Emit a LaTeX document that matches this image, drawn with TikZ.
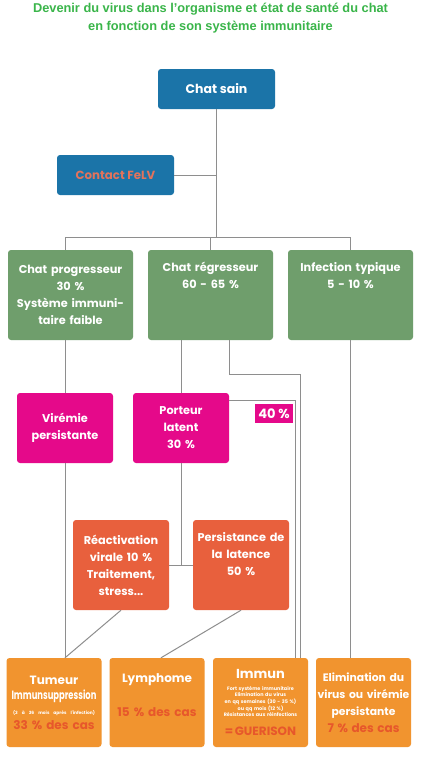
\documentclass[tikz,border=0pt]{standalone}
\usepackage{fontspec}
\usepackage{xcolor}
\usepackage{graphicx}
\usepackage{tikz}
\usetikzlibrary{positioning, calc}
\setmainfont{Liberation Sans}
\newfontfamily\boxfont{Poppins}
\definecolor{titlegreen}{HTML}{3AB54A}
\definecolor{felvblue}{HTML}{1B74A8}
\definecolor{contactred}{HTML}{E2735C}
\definecolor{stagegreen}{HTML}{6F9E6C}
\definecolor{viremiapink}{HTML}{E5098A}
\definecolor{latentred}{HTML}{E8603D}
\definecolor{outcomeorange}{HTML}{F1942F}
\definecolor{casered}{HTML}{E7572B}
\definecolor{linkgray}{HTML}{8E8E8E}

\tikzset{
  card/.style={rounded corners=3pt, inner sep=0pt, align=center, text=white,
    font=\boxfont\bfseries\fontsize{11.3}{17}\selectfont},
  bluebox/.style={card, fill=felvblue, minimum width=117pt, minimum height=40pt},
  stagebox/.style={card, fill=stagegreen, minimum width=125pt, minimum height=90pt, text width=121pt},
  pinkbox/.style={card, fill=viremiapink, minimum width=96pt, minimum height=70pt, text width=92pt},
  latbox/.style={card, fill=latentred, minimum width=96pt, minimum height=90pt, text width=92pt},
  outbox/.style={card, fill=outcomeorange, minimum width=95pt, minimum height=89pt, text width=94pt,
    font=\boxfont\bfseries\fontsize{11.5}{17}\selectfont},
  link/.style={draw=linkgray, line width=1pt}
}
\newcommand{\casecount}[1]{{\color{casered}\fontsize{12}{14}\selectfont #1}}

\begin{document}
\begin{tikzpicture}[x=1pt, y=-1pt]
  \useasboundingbox[fill=white] (0,0) rectangle (421,758);

  \node[font=\bfseries\fontsize{12.8}{18.5}\selectfont, text=titlegreen, align=center] (title) at (210.5,18)
    {Devenir du virus dans l'organisme et état de santé du chat\\en fonction de son système immunitaire};

  \node[bluebox, font=\boxfont\bfseries\fontsize{12.5}{15}\selectfont] (sain) at (216.5,89) {Chat sain};
  \node[bluebox, text=contactred, font=\boxfont\bfseries\fontsize{11.8}{15}\selectfont] (contact) at (115.5,175) {Contact FeLV};

  \node[stagebox] (prog) at (70.5,295) {Chat progresseur\\30 \%\\Système immuni-\\taire faible};
  \node[stagebox] (regr) at (210.5,295) {Chat régresseur\\60 - 65 \%\\\strut\\\strut};
  \node[stagebox] (infect) at (350.5,295) {Infection typique\\5 - 10 \%\\\strut\\\strut};

  \node[pinkbox] (viremie) at (65,428) {Virémie\\persistante};
  \node[pinkbox] (porteur) at (181,428) {Porteur\\latent\\30 \%};
  \node[card, fill=viremiapink, rounded corners=0pt, minimum width=38pt, minimum height=19pt,
        font=\boxfont\bfseries\fontsize{13}{14}\selectfont] (pct) at (274,413.5) {40 \%};

  \node[latbox] (reac) at (121,565) {Réactivation\\virale 10 \%\\Traitement,\\stress...};
  \node[latbox] (pers) at (241,565) {Persistance de\\la latence\\50 \%\\\strut};

  \node[outbox, font=\boxfont\bfseries\fontsize{12}{15}\selectfont] (tumeur) at (54,702.5)
    {Tumeur\\\scalebox{0.7}[1]{Immunsuppression}\\
     {\fontsize{4.4}{5}\selectfont (3 à 36 mois après l'infection)}\\\casecount{33 \% des cas}};
  \node[outbox, font=\boxfont\bfseries\fontsize{12}{34}\selectfont] (lymph) at (157,702.5)
    {Lymphome\\\casecount{15 \% des cas}\\[-20pt]\mbox{}};
  \node[outbox, font=\boxfont\bfseries\fontsize{4.9}{6.6}\selectfont] (immun) at (260.5,702.5)
    {{\fontsize{13}{15}\selectfont Immun}\\[5pt]
     Fort système immunitaire\\Elimination du virus\\en qq semaines (30 - 35 \%)\\
     ou qq mois (12 \%)\\Résistances aux réinfections\\[9pt]\casecount{= GUERISON}};
  \node[outbox, font=\boxfont\bfseries\fontsize{10.8}{17}\selectfont] (elim) at (363.5,702.5)
    {Elimination du\\virus ou virémie\\persistante\\\casecount{7 \% des cas}};

  \coordinate (split) at (216.5,237);
  \draw[link] (sain.south) -- (split);
  \draw[link] (contact.east) -- (contact.east -| sain.south);
  \draw[link] (split -| viremie.north) -- (split -| infect.north);
  \draw[link] (split -| viremie.north) -- (prog.north -| viremie.north);
  \draw[link] (split -| regr.north) -- (regr.north);
  \draw[link] (split -| infect.north) -- (infect.north);

  \draw[link] (prog.south -| viremie.north) -- (viremie.north);
  \draw[link] (porteur.north |- regr.south) -- (porteur.north);
  \draw[link] (porteur.east |- regr.south) -- ++(0,34) -| ([xshift=39.5pt]immun.north);
  \draw[link] ([yshift=-8pt]porteur.north east) -| ([xshift=34.5pt]immun.north);
  \draw[link] (infect.south) -- (infect.south |- elim.north);

  \draw[link] (porteur.south) -- (porteur.south |- reac.east);
  \draw[link] (reac.east) -- (pers.west);
  \draw[link] (viremie.south) -- (viremie.south |- tumeur.north);
  \draw[link] (reac.south) -- (viremie.south |- tumeur.north);
  \draw[link] (pers.south) -- ([xshift=4pt]lymph.north);
\end{tikzpicture}
\end{document}
